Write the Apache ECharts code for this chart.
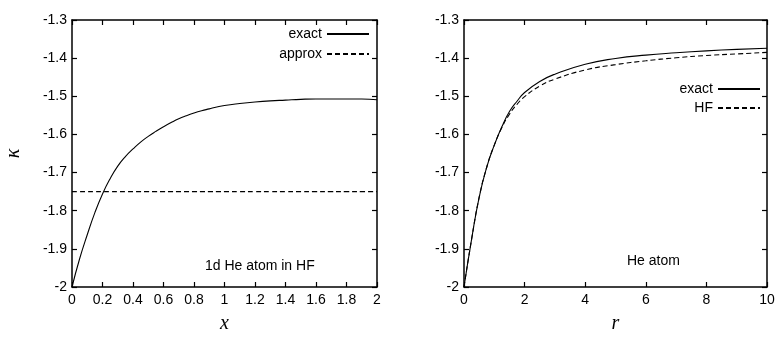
<!DOCTYPE html>
<html>
<head>
<meta charset="utf-8">
<script src="https://cdn.jsdelivr.net/npm/echarts@6/dist/echarts.min.js"></script>
<style>html,body{margin:0;padding:0;background:#fff;}#c{width:778px;height:339px;}</style>
</head>
<body>
<div id="c"></div>
<script>
// Left panel: 1d He atom in HF
const leftX      = [0, 0.05, 0.1, 0.15, 0.2, 0.25, 0.3, 0.35, 0.4, 0.45, 0.5, 0.55, 0.6, 0.65, 0.7, 0.75, 0.8, 0.85, 0.9, 0.95, 1.0, 1.1, 1.2, 1.3, 1.4, 1.5, 1.6, 1.7, 1.8, 1.9, 2.0];
const leftExact  = [-2.000, -1.926, -1.863, -1.805, -1.756, -1.716, -1.683, -1.658, -1.638, -1.620, -1.605, -1.592, -1.580, -1.569, -1.559, -1.551, -1.544, -1.538, -1.533, -1.528, -1.524, -1.519, -1.515, -1.512, -1.510, -1.508, -1.507, -1.507, -1.507, -1.507, -1.509];
const leftApprox = [-1.75, -1.75, -1.75, -1.75, -1.75, -1.75, -1.75, -1.75, -1.75, -1.75, -1.75, -1.75, -1.75, -1.75, -1.75, -1.75, -1.75, -1.75, -1.75, -1.75, -1.75, -1.75, -1.75, -1.75, -1.75, -1.75, -1.75, -1.75, -1.75, -1.75, -1.75];
// Right panel: He atom
const rightR     = [0, 0.25, 0.5, 0.75, 1.0, 1.25, 1.5, 1.75, 2.0, 2.5, 3, 4, 5, 6, 7, 8, 9, 10];
const rightExact = [-2.000, -1.875, -1.765, -1.686, -1.628, -1.580, -1.540, -1.513, -1.490, -1.461, -1.442, -1.416, -1.401, -1.392, -1.386, -1.381, -1.377, -1.374];
const rightHF    = [-2.000, -1.875, -1.765, -1.686, -1.628, -1.582, -1.547, -1.521, -1.501, -1.473, -1.455, -1.431, -1.417, -1.407, -1.399, -1.393, -1.389, -1.385];

const yMin = -2, yMax = -1.3, yStep = 0.1;
const leftXTicks = {min: 0, max: 2, interval: 0.2};
const rightXTicks = {min: 0, max: 10, interval: 2};

const pairs = (xs, ys) => xs.map((x, i) => [x, ys[i]]);
const FONT = 'Liberation Sans';
const labelStyle = {fontFamily: FONT, fontSize: 14, color: '#000'};
const lineAx = {show: true, onZero: false, lineStyle: {color: '#000', width: 1.5}};
const tickIn = {show: true, inside: true, length: 5, lineStyle: {color: '#000', width: 1.2}};
const nameStyle = {fontFamily: 'Liberation Serif', fontStyle: 'italic', fontSize: 20, color: '#000'};

function xAx(grid, t, name, mirror) {
  return {
    type: 'value', gridIndex: grid, position: mirror ? 'top' : 'bottom',
    min: t.min, max: t.max, interval: t.interval,
    axisLine: lineAx, axisTick: tickIn, splitLine: {show: false},
    axisLabel: mirror ? {show: false} : Object.assign({margin: 6}, labelStyle),
    name: mirror ? '' : name, nameLocation: 'middle', nameGap: 27,
    nameTextStyle: nameStyle
  };
}
function yAx(grid, name, mirror) {
  return {
    type: 'value', gridIndex: grid, position: mirror ? 'right' : 'left',
    min: yMin, max: yMax, interval: yStep,
    axisLine: lineAx, axisTick: tickIn, splitLine: {show: false},
    axisLabel: mirror ? {show: false} : Object.assign({margin: 5}, labelStyle),
    name: mirror ? '' : name, nameLocation: 'middle', nameGap: 48, nameRotate: 90,
    nameTextStyle: nameStyle
  };
}
function ser(name, xi, yi, data, dashed) {
  return {
    name, type: 'line', xAxisIndex: xi, yAxisIndex: yi, data,
    symbol: 'none', smooth: true,
    lineStyle: {color: '#000', width: 1.1, type: dashed ? [5, 3] : 'solid'},
    itemStyle: {color: '#000'}, animation: false
  };
}
const legendCommon = {
  orient: 'vertical', align: 'right', padding: 0, itemWidth: 42, itemHeight: 12,
  textStyle: labelStyle, selectedMode: false,
  itemStyle: {color: 'rgba(0,0,0,0)', borderWidth: 0, opacity: 0}
};

const chart = echarts.init(document.getElementById('c'), null, {renderer: 'canvas'});
chart.setOption({
  animation: false,
  backgroundColor: '#fff',
  grid: [
    {left: 72, top: 20, width: 305, height: 267, outerBoundsMode: 'none', containLabel: false},
    {left: 464, top: 20, width: 303, height: 267, outerBoundsMode: 'none', containLabel: false}
  ],
  xAxis: [xAx(0, leftXTicks, 'x', false), xAx(0, leftXTicks, '', true), xAx(1, rightXTicks, 'r', false), xAx(1, rightXTicks, '', true)],
  yAxis: [yAx(0, 'κ', false), yAx(0, '', true), yAx(1, '', false), yAx(1, '', true)],
  legend: [
    Object.assign({data: ['exact', 'approx'], right: 408, top: 27, itemGap: 6}, legendCommon),
    Object.assign({data: ['exact', 'HF'], right: 17, top: 82, itemGap: 5}, legendCommon)
  ],
  graphic: [
    {type: 'text', left: 205, top: 259, style: {text: '1d He atom in HF', font: '14px "Liberation Sans"', fill: '#000'}},
    {type: 'text', left: 627, top: 254, style: {text: 'He atom', font: '14px "Liberation Sans"', fill: '#000'}}
  ],
  series: [
    ser('exact', 0, 0, pairs(leftX, leftExact), false),
    ser('approx', 0, 0, pairs(leftX, leftApprox), true),
    ser('exact', 2, 2, pairs(rightR, rightExact), false),
    ser('HF', 2, 2, pairs(rightR, rightHF), true)
  ]
});
</script>
</body>
</html>
